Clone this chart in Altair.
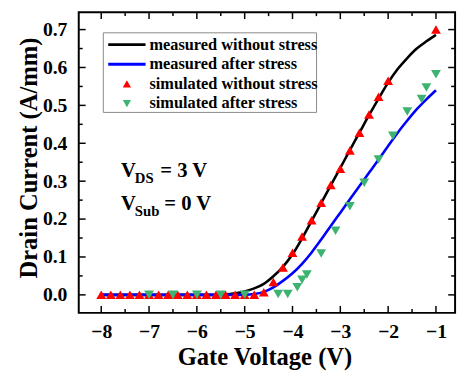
import altair as alt
import pandas as pd

# ---------------- data ----------------
black_v = [-8.0, -5.6, -5.4, -5.2, -5.0, -4.8, -4.6, -4.4, -4.2, -4.0, -3.8, -3.6, -3.4,
           -3.2, -3.0, -2.8, -2.6, -2.4, -2.2, -2.0, -1.8, -1.6, -1.4, -1.2, -1.0]
black_i = [0.0, 0.0, 0.001, 0.004, 0.009, 0.017, 0.029, 0.049, 0.074, 0.107, 0.149, 0.195, 0.242,
           0.289, 0.335, 0.382, 0.428, 0.474, 0.518, 0.56, 0.596, 0.625, 0.65, 0.669, 0.686]

blue_v = [-8.0, -5.0, -4.8, -4.6, -4.4, -4.2, -4.0, -3.8, -3.6, -3.4, -3.2, -3.0, -2.8,
          -2.6, -2.4, -2.2, -2.0, -1.8, -1.6, -1.4, -1.2, -1.0]
blue_i = [0.0, 0.0, 0.002, 0.008, 0.02, 0.037, 0.057, 0.082, 0.112, 0.146, 0.182, 0.217, 0.252,
          0.287, 0.322, 0.357, 0.393, 0.428, 0.46, 0.49, 0.516, 0.54]

red_v = [-8.0, -7.8, -7.6, -7.4, -7.2, -7.0, -6.8, -6.6, -6.4, -6.2, -6.0, -5.8, -5.6, -5.4,
         -5.2, -5.0, -4.8, -4.6, -4.4, -4.2, -4.0, -3.8, -3.6, -3.4, -3.2, -3.0, -2.8, -2.6,
         -2.4, -2.2, -2.0, -1.0]
red_i = [0.0, 0.0, 0.0, 0.0, 0.0, 0.0, 0.0, 0.0, 0.0, 0.0, 0.0, 0.0, 0.0, 0.0,
         0.0, 0.0, 0.0, 0.007, 0.034, 0.072, 0.111, 0.154, 0.197, 0.243, 0.29, 0.333, 0.381, 0.428,
         0.476, 0.523, 0.565, 0.70]

green_v = [-7.0, -6.5, -6.0, -5.5, -5.0, -4.3, -4.1, -3.9, -3.8, -3.7, -3.4, -3.1, -2.8, -2.5,
           -2.2, -1.9, -1.6, -1.3, -1.2, -1.0]
green_i = [0.0, 0.0, 0.0, 0.0, 0.0, 0.002, 0.002, 0.02, 0.04, 0.054, 0.109, 0.169, 0.234, 0.296,
           0.357, 0.42, 0.484, 0.517, 0.547, 0.582]

x_major = [-8, -7, -6, -5, -4, -3, -2, -1]
x_minor = [-7.5, -6.5, -5.5, -4.5, -3.5, -2.5, -1.5]
y_major = [0.0, 0.1, 0.2, 0.3, 0.4, 0.5, 0.6, 0.7]
y_minor = [0.05, 0.15, 0.25, 0.35, 0.45, 0.55, 0.65]

legend_labels = ["measured without stress", "measured after stress",
                 "simulated without stress", "simulated after stress"]
annot_main = ["V", "= 3 V", "V", "= 0 V"]
annot_sub = ["DS", "Sub"]

x_title = "Gate Voltage (V)"
y_title = "Drain Current (A/mm)"

# ---------------- layout ----------------
W, H = 383, 306
FONT = "Liberation Serif"
RED = "#FF0000"
GREEN = "#3CB371"
BLUE = "#0000FF"

xs = alt.Scale(domain=[-8.47, -0.6], nice=False, zero=False)
ys = alt.Scale(domain=[-0.0475, 0.7459], nice=False, zero=False)

xaxis = alt.Axis(values=x_major, format="d", title=x_title, ticks=False, domain=False,
                 grid=False, labelPadding=9, titleX=189, titleY=53,
                 titleBaseline="alphabetic")
yaxis = alt.Axis(values=y_major, format=".1f", title=y_title, ticks=False, domain=False,
                 grid=False, labelPadding=12, titleX=-43, titleY=148, titleAngle=270,
                 titleAlign="center", titleBaseline="alphabetic")


def X(f):
    return alt.X(f, type="quantitative", scale=xs, axis=xaxis)


def Y(f):
    return alt.Y(f, type="quantitative", scale=ys, axis=yaxis)


one = pd.DataFrame({"a": [0]})

layers = []

# ticks (inward)
for vals, ln in ((x_major, 7), (x_minor, 4)):
    d = pd.DataFrame({"t": vals})
    layers.append(alt.Chart(d).mark_rule(color="black", strokeWidth=1.5).encode(
        x=X("t"), y=alt.value(H), y2=alt.value(H - ln)))
    layers.append(alt.Chart(d).mark_rule(color="black", strokeWidth=1.5).encode(
        x=X("t"), y=alt.value(0), y2=alt.value(ln)))
for vals, ln in ((y_major, 7), (y_minor, 4)):
    d = pd.DataFrame({"t": vals})
    layers.append(alt.Chart(d).mark_rule(color="black", strokeWidth=1.5).encode(
        y=Y("t"), x=alt.value(0), x2=alt.value(ln)))
    layers.append(alt.Chart(d).mark_rule(color="black", strokeWidth=1.5).encode(
        y=Y("t"), x=alt.value(W), x2=alt.value(W - ln)))

# data
black_df = pd.DataFrame({"V": black_v, "I": black_i})
blue_df = pd.DataFrame({"V": blue_v, "I": blue_i})
red_df = pd.DataFrame({"V": red_v, "I": red_i})
green_df = pd.DataFrame({"V": green_v, "I": green_i})

layers.append(alt.Chart(black_df).mark_line(color="black", strokeWidth=2.6,
                                            interpolate="monotone").encode(x=X("V"), y=Y("I")))
layers.append(alt.Chart(blue_df).mark_line(color=BLUE, strokeWidth=2.6,
                                           interpolate="monotone").encode(x=X("V"), y=Y("I")))
layers.append(alt.Chart(red_df).mark_point(shape="triangle-up", filled=True, color=RED,
                                           size=100, opacity=1).encode(x=X("V"), y=Y("I")))
layers.append(alt.Chart(green_df).mark_point(shape="triangle-down", filled=True, color=GREEN,
                                             size=100, opacity=1).encode(x=X("V"), y=Y("I")))

# legend box
layers.append(alt.Chart(one).mark_rect(fill="white", stroke="#8a8a8a", strokeWidth=1).encode(
    x=alt.value(25), x2=alt.value(242), y=alt.value(21), y2=alt.value(102)))
rows = [33, 53, 73, 93]
layers.append(alt.Chart(one).mark_rule(color="black", strokeWidth=3).encode(
    x=alt.value(30), x2=alt.value(68), y=alt.value(rows[0])))
layers.append(alt.Chart(one).mark_rule(color=BLUE, strokeWidth=3).encode(
    x=alt.value(30), x2=alt.value(68), y=alt.value(rows[1])))
layers.append(alt.Chart(one).mark_point(shape="triangle-up", filled=True, color=RED,
                                        size=70, opacity=1).encode(
    x=alt.value(49), y=alt.value(rows[2])))
layers.append(alt.Chart(one).mark_point(shape="triangle-down", filled=True, color=GREEN,
                                        size=70, opacity=1).encode(
    x=alt.value(49), y=alt.value(rows[3])))
for lab, r in zip(legend_labels, rows):
    layers.append(alt.Chart(one).mark_text(align="left", baseline="middle", font=FONT,
                                           fontWeight="bold", fontSize=16.6, color="black").encode(
        x=alt.value(72), y=alt.value(r), text=alt.value(lab)))

# annotation V_DS = 3 V, V_Sub = 0 V
main_pos = [(43, 168), (83, 168), (43, 201), (87, 201)]
for t, (px, py) in zip(annot_main, main_pos):
    layers.append(alt.Chart(one).mark_text(align="left", baseline="alphabetic", font=FONT,
                                           fontWeight="bold", fontSize=21, color="black").encode(
        x=alt.value(px), y=alt.value(py), text=alt.value(t)))
sub_pos = [(57, 174), (57, 207)]
for t, (px, py) in zip(annot_sub, sub_pos):
    layers.append(alt.Chart(one).mark_text(align="left", baseline="alphabetic", font=FONT,
                                           fontWeight="bold", fontSize=15, color="black").encode(
        x=alt.value(px), y=alt.value(py), text=alt.value(t)))

chart = alt.layer(*layers).properties(
    width=W, height=H,
    autosize=alt.AutoSizeParams(type="none"),
    padding={"left": 72, "top": 1, "right": 5, "bottom": 62},
).configure_view(
    stroke="black", strokeWidth=2
).configure_axis(
    labelFont=FONT, labelFontWeight="bold", labelFontSize=20, labelColor="black",
    titleFont=FONT, titleFontWeight="bold", titleFontSize=25, titleColor="black"
)

chart.save("out.html", embed_options={"renderer": "svg", "actions": False})
